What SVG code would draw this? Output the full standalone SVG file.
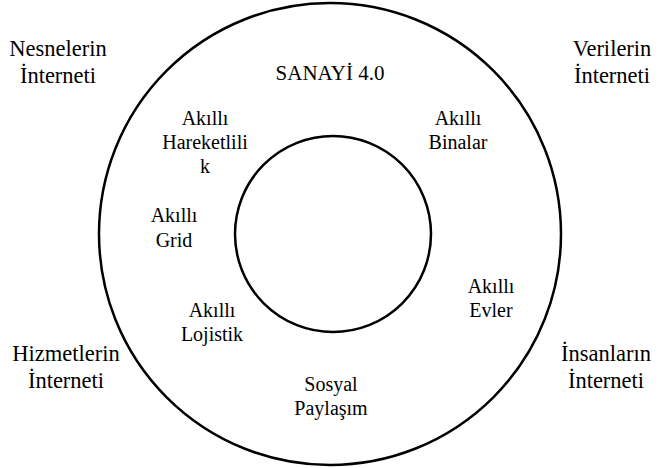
<svg xmlns="http://www.w3.org/2000/svg" width="661" height="468" viewBox="0 0 661 468">
<style>
.t{fill:#000;text-anchor:middle}
.big{font-size:22.5px}
.san{font-size:21px}
.lab{font-size:20px}
.ring{fill:none;stroke:#000;stroke-width:2.5}
</style>
<rect width="661" height="468" fill="#fff"/>
<g id="outer"><circle class="ring" cx="330" cy="234" r="231"/></g>
<g id="inner"><circle class="ring" cx="333" cy="234" r="98"/></g>
<g font-family="Liberation Serif, Times New Roman, Times, DejaVu Serif, serif">
<g id="sanayi"><text class="t san" x="330" y="80">SANAYİ 4.0</text></g>
<g id="nesnelerin"><text class="t big" x="58" y="56">Nesnelerin</text><text class="t big" x="58" y="83">İnterneti</text></g>
<g id="verilerin"><text class="t big" x="612" y="56">Verilerin</text><text class="t big" x="612" y="83">İnterneti</text></g>
<g id="hizmetlerin"><text class="t big" x="66" y="361">Hizmetlerin</text><text class="t big" x="66" y="388">İnterneti</text></g>
<g id="insanlarin"><text class="t big" x="606" y="361">İnsanların</text><text class="t big" x="606" y="388">İnterneti</text></g>
<g id="hareketlilik"><text class="t lab" x="205" y="125">Akıllı</text><text class="t lab" x="205" y="149">Hareketlili</text><text class="t lab" x="205" y="173">k</text></g>
<g id="binalar"><text class="t lab" x="458" y="125">Akıllı</text><text class="t lab" x="458" y="149">Binalar</text></g>
<g id="grid"><text class="t lab" x="174" y="222">Akıllı</text><text class="t lab" x="174" y="247">Grid</text></g>
<g id="evler"><text class="t lab" x="491" y="293">Akıllı</text><text class="t lab" x="491" y="317">Evler</text></g>
<g id="lojistik"><text class="t lab" x="212" y="317">Akıllı</text><text class="t lab" x="212" y="341">Lojistik</text></g>
<g id="sosyal"><text class="t lab" x="331" y="391">Sosyal</text><text class="t lab" x="331" y="415">Paylaşım</text></g>
</g>
</svg>
